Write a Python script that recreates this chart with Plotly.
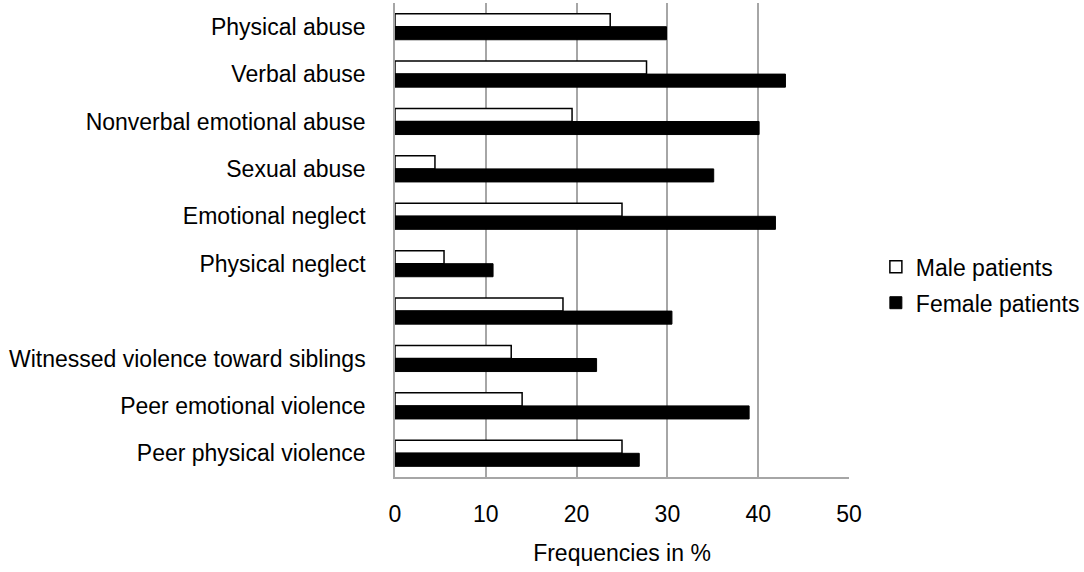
import plotly.graph_objects as go

# Categories top to bottom (7th label is blank in the source figure)
categories = ['Physical abuse', 'Verbal abuse', 'Nonverbal emotional abuse', 'Sexual abuse',
              'Emotional neglect', 'Physical neglect', ' ',
              'Witnessed violence toward siblings', 'Peer emotional violence', 'Peer physical violence']
male = [23.7, 27.7, 19.5, 4.4, 25.0, 5.4, 18.5, 12.8, 14.0, 25.0]
female = [29.9, 43.0, 40.1, 35.1, 41.9, 10.8, 30.5, 22.2, 39.0, 26.9]
x_ticks = [0, 10, 20, 30, 40, 50]

font = 'Liberation Sans, Arial, sans-serif'

fig = go.Figure()

fig.add_trace(go.Bar(
    y=categories, x=male, orientation='h', name='Male patients',
    marker=dict(color='white', line=dict(color='black', width=1.5)),
    legendgroup='m'
))
fig.add_trace(go.Bar(
    y=categories, x=female, orientation='h', name='Female patients',
    marker=dict(color='black', line=dict(color='black', width=1)),
    legendgroup='f'
))

fig.update_layout(
    width=1084, height=572,
    margin=dict(l=395, r=235, t=3, b=95),
    plot_bgcolor='white', paper_bgcolor='white',
    barmode='group', bargap=0.45, bargroupgap=0,
    font=dict(family=font, size=23, color='black'),
    legend=dict(xref='container', yref='container', x=0.808, y=0.502,
                xanchor='left', yanchor='middle',
                font=dict(size=23), tracegroupgap=3, bgcolor='rgba(0,0,0,0)'),
    showlegend=True,
)

fig.update_xaxes(
    range=[0, 50], tickvals=x_ticks, automargin=False,
    showgrid=True, gridcolor='#a6a6a6', gridwidth=1.5,
    showline=True, linecolor='#a6a6a6', linewidth=1.5,
    zeroline=False, ticks='', ticklabelstandoff=16,
    title=dict(text='Frequencies in %', standoff=19, font=dict(size=23)),
)
fig.update_yaxes(
    autorange='reversed', showgrid=False, automargin=False,
    showline=True, linecolor='#a6a6a6', linewidth=1.5,
    ticks='', ticklabelstandoff=23,
)

fig.write_html('out.html', config={'displayModeBar': False},
               post_script="document.body.style.margin='0';")
